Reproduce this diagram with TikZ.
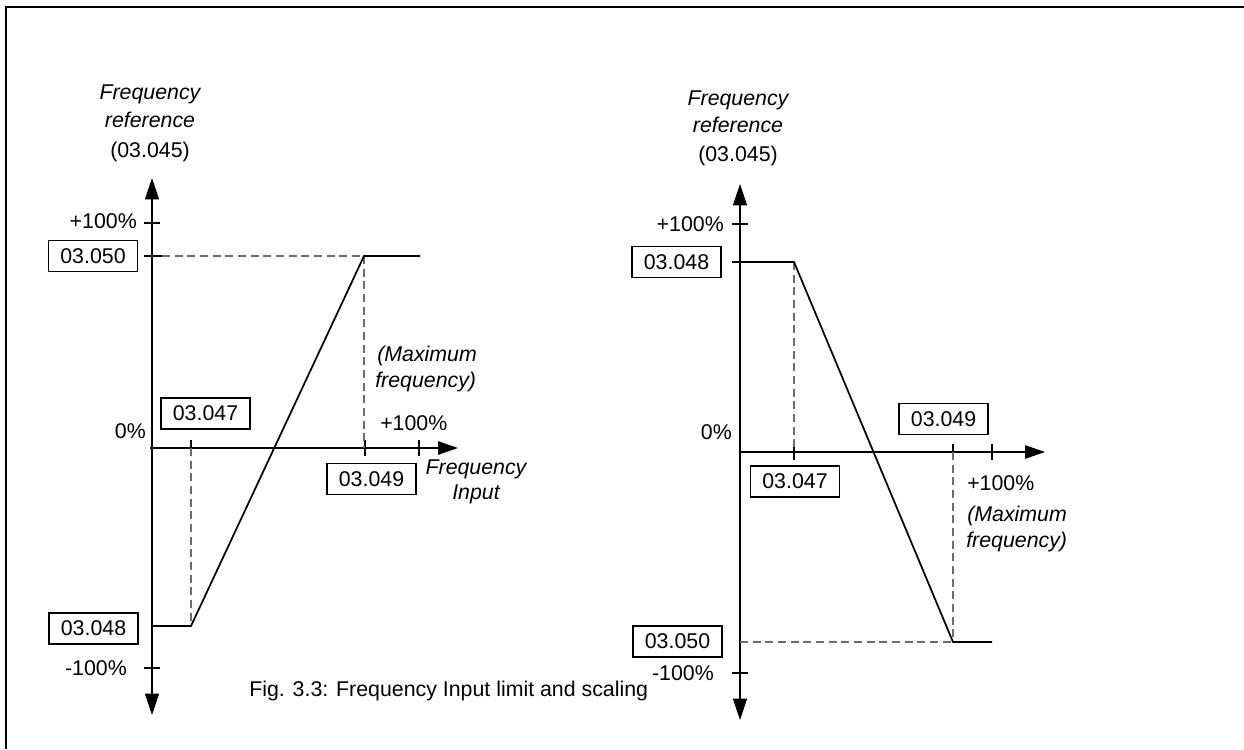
\documentclass[tikz,border=0pt]{standalone}
\usepackage{fontspec}
\setmainfont{Liberation Sans}
\usetikzlibrary{arrows.meta}
\tikzset{
  axisline/.style={line width=1pt, black, {Triangle[length=16pt,width=10.5pt]}-{Triangle[length=16pt,width=10.5pt]}},
  haxis/.style={line width=1pt, black, -{Triangle[length=15pt,width=10pt]}},
  curve/.style={line width=1.3pt, black},
  tickline/.style={line width=1pt, black},
  dashline/.style={line width=1pt, gray!85!black, dash pattern=on 6pt off 3.5pt},
  parbox/.style={draw, line width=1.2pt, minimum width=66.75pt, minimum height=23.25pt, inner sep=0pt, font=\lbl},
  txt/.style={inner sep=0pt, font=\lbl},
  itxt/.style={inner sep=0pt, font=\lbl\itshape},
}
\newcommand{\lbl}{\fontsize{16}{19}\selectfont}
\begin{document}
\begin{tikzpicture}[x=0.75pt,y=-0.75pt]
\useasboundingbox (0,0) rectangle (1244,749);
% frame
\draw[line width=1.8pt] (6,749) -- (6,7) -- (1244,7);

% ================= LEFT CHART =================
\coordinate (LyB) at (152,715);
\coordinate (LyT) at (152,178);
\coordinate (LxO) at (150,448);
\coordinate (LxE) at (458,448);
\draw[axisline] (LyB) -- (LyT);
\draw[haxis] (LxO) -- (LxE);
% titles
\node[itxt, anchor=base] (Lt1) at (150,99) {Frequency};
\node[itxt, anchor=base] (Lt2) at (150,127) {reference};
\node[txt, anchor=base] (Lt3) at (150,157) {(03.045)};
% y ticks
\draw[tickline] (144,223) -- (160,223);
\node[txt, anchor=base east] (Lp100) at (137,228) {+100\%};
\draw[tickline] (144,256) -- (162,256);
\draw[tickline] (144,668) -- (160,668);
\node[txt, anchor=base east] (Lm100) at (127,675) {-100\%};
\node[txt, anchor=base east] (L0) at (146,438) {0\%};
% x ticks
\draw[tickline] (191,440) -- (191,456);
\draw[tickline] (365,440) -- (365,456);
\draw[tickline] (419,440) -- (419,456);
% curve
\coordinate (La) at (152,626);
\coordinate (Lb) at (191,626);
\coordinate (Lc) at (364,256);
\coordinate (Ld) at (420,256);
\draw[dashline] (162,256) -- (Lc);
\draw[dashline] (Lc) -- (364,448);
\draw[dashline] (191,448) -- (Lb);
\draw[curve] (La) -- (Lb) -- (Lc) -- (Ld);
% boxes
\node[parbox] (L050) at (93,256) {03.050};
\node[parbox] (L047) at (205.5,413.5) {03.047};
\node[parbox] (L049) at (371.5,479) {03.049};
\node[parbox] (L048) at (93.5,628.5) {03.048};
% labels
\node[itxt, anchor=base west] (Lmax1) at (377,361) {(Maximum};
\node[itxt, anchor=base west] (Lmax2) at (375,387) {frequency)};
\node[txt, anchor=base west] (Lx100) at (380,430) {+100\%};
\node[itxt, anchor=base] (Lfi1) at (476,474) {Frequency};
\node[itxt, anchor=base] (Lfi2) at (476,499) {Input};
% caption
\node[txt, anchor=base west] (cap) at (249,696) {Fig. 3.3: Frequency Input limit and scaling};

% ================= RIGHT CHART =================
\coordinate (RyB) at (740,720);
\coordinate (RyT) at (740,184);
\coordinate (RxO) at (740,452);
\coordinate (RxE) at (1045,452);
\draw[axisline] (RyB) -- (RyT);
\draw[haxis] (RxO) -- (RxE);
\node[itxt, anchor=base] (Rt1) at (738,105) {Frequency};
\node[itxt, anchor=base] (Rt2) at (738,132) {reference};
\node[txt, anchor=base] (Rt3) at (738,161) {(03.045)};
% y ticks
\draw[tickline] (732,224) -- (748,224);
\node[txt, anchor=base east] (Rp100) at (724,231) {+100\%};
\draw[tickline] (732,262) -- (740,262);
\draw[tickline] (732,673) -- (748,673);
\node[txt, anchor=base east] (Rm100) at (714,680) {-100\%};
\node[txt, anchor=base east] (R0) at (732,439) {0\%};
% x ticks
\draw[tickline] (794,444) -- (794,460);
\draw[tickline] (953,444) -- (953,460);
\draw[tickline] (992,444) -- (992,460);
% curve
\coordinate (Ra) at (740,262);
\coordinate (Rb) at (794,262);
\coordinate (Rc) at (953,642);
\coordinate (Rd) at (992,642);
\draw[dashline] (Rb) -- (794,452);
\draw[dashline] (953,452) -- (Rc);
\draw[dashline] (740,642) -- (Rc);
\draw[curve] (Ra) -- (Rb) -- (Rc) -- (Rd);
% boxes
\node[parbox] (R048) at (676.5,262) {03.048};
\node[parbox] (R049) at (943.5,419) {03.049};
\node[parbox] (R047) at (795,481.5) {03.047};
\node[parbox] (R050) at (677.5,641.5) {03.050};
% labels
\node[txt, anchor=base west] (Rx100) at (967,490) {+100\%};
\node[itxt, anchor=base west] (Rmax1) at (967,521) {(Maximum};
\node[itxt, anchor=base west] (Rmax2) at (966,547) {frequency)};
\end{tikzpicture}
\end{document}
